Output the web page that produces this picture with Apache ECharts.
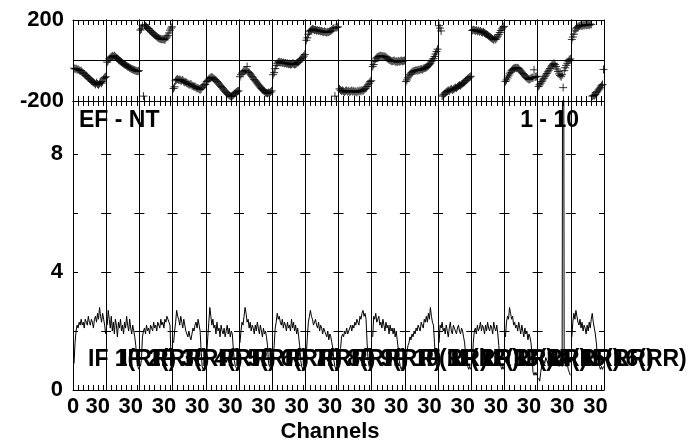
<!DOCTYPE html>
<html><head><meta charset="utf-8">
<script src="https://cdn.jsdelivr.net/npm/echarts@6/dist/echarts.min.js"></script>
<style>html,body{margin:0;padding:0;background:#fff}#c{width:692px;height:443px}</style>
</head><body><div id="c"></div>
<script>
// ---------- data ----------
const ifLabels = ['IF 1(RR)','IF 2(RR)','IF 3(RR)','IF 4(RR)','IF 5(RR)','IF 6(RR)','IF 7(RR)','IF 8(RR)',
                  'IF 9(RR)','IF 10(RR)','IF 11(RR)','IF 12(RR)','IF 13(RR)','IF 14(RR)','IF 15(RR)','IF 16(RR)'];
const baselineLabel = 'EF - NT';
const timeLabel = '1 - 10';
const xAxisTitle = 'Channels';
const phaseTickLabels = [-200, 200];
const ampTickLabels = [0, 4, 8];
const chanTickLabelsFirst = [0, 30];
const chanTickLabelsOther = [30];

// phase (degrees) per channel, 32 channels per IF
const ph1  = [-38,-42,-40,-45,-44,-48,-52,-50,-58,-62,-66,-72,-75,-80,-86,-90,-95,-100,-104,-108,-112,-118,-110,-116,-120,-114,-108,-112,-104,-90,-84,-80];
const ph2  = [-8,0,8,14,18,22,20,24,18,14,10,4,0,-4,-8,-12,-16,-20,-22,-26,-30,-32,-36,-38,-42,-44,-46,-48,-50,-52,-54,-50];
const ph3  = [150,156,172,-176,178,170,166,160,158,150,146,140,136,130,126,122,118,114,110,108,106,104,106,104,102,110,116,124,136,150,160,166];
const ph4  = [-138,-130,-100,-94,-92,-96,-94,-98,-100,-96,-104,-108,-106,-112,-114,-118,-120,-116,-124,-126,-130,-128,-134,-138,-136,-142,-144,-140,-132,-126,-120,-118];
const ph5  = [-104,-98,-92,-88,-84,-82,-86,-90,-94,-98,-104,-110,-116,-122,-128,-134,-140,-146,-152,-158,-164,-168,-172,-176,-178,-174,-170,-164,-160,-156,-152,-150];
const ph6  = [-80,-70,-62,-56,-52,-50,-48,-30,-56,-60,-66,-72,-80,-86,-94,-100,-106,-112,-120,-126,-132,-138,-144,-148,-152,-158,-160,-162,-158,-160,-156,-150];
const ph7  = [-70,-60,-40,-24,-14,-8,-6,-10,-8,-12,-10,-14,-12,-16,-14,-18,-16,-20,-18,-14,-16,-20,-18,-14,-10,-8,-2,4,10,16,22,30];
const ph8  = [100,112,130,142,148,152,156,154,150,152,148,150,146,148,144,146,142,140,144,140,138,142,140,144,146,150,156,160,-176,162,164,166];
const ph9  = [-140,-146,-150,-148,-152,-156,-150,-148,-154,-150,-156,-152,-148,-154,-150,-156,-152,-158,-150,-154,-148,-152,-146,-150,-144,-140,-136,-128,-120,-112,-104,-100];
const ph10 = [-30,-20,-4,8,14,18,20,22,24,20,22,18,20,16,12,8,4,2,-2,-4,-2,0,-6,-4,-8,-2,-6,-4,0,-4,-2,0];
const ph11 = [-104,-96,-86,-76,-68,-62,-58,-54,-52,-50,-48,-50,-46,-48,-44,-42,-46,-40,-38,-36,-34,-30,-26,-20,-14,-6,2,10,20,32,44,56];
const ph12 = [172,160,146,-176,-170,-166,-160,-156,-152,-148,-150,-144,-140,-146,-142,-138,-134,-136,-130,-126,-122,-124,-118,-114,-110,-106,-100,-96,-90,-86,-82,-78];
const ph13 = [148,152,150,146,150,144,148,142,146,140,138,142,136,132,130,126,122,118,114,110,106,102,110,104,112,120,128,138,148,156,164,168];
const ph14 = [-104,-96,-86,-76,-66,-58,-50,-44,-40,-38,-36,-38,-36,-40,-46,-52,-58,-64,-70,-76,-82,-86,-90,-94,-92,-88,-84,-86,-46,-82,-80,-78];
const ph15 = [-128,-120,-112,-104,-96,-88,-80,-72,-64,-56,-48,-40,-32,-24,-18,-14,-20,-30,-42,-54,-66,-74,-80,-70,-134,-50,-36,-24,-14,-4,4,8];
const ph16 = [104,116,130,146,156,162,166,170,172,174,170,176,172,178,174,176,178,174,180,178,-176,-172,-174,-168,-160,-154,-146,-140,-132,-124,-118,-44];

// amplitude per channel, 32 channels per IF
const amp1  = [0.9,1.6,2.0,2.2,2.1,2.3,2.2,2.4,2.2,2.3,2.1,2.4,2.3,2.2,2.5,2.3,2.2,2.4,2.3,2.1,2.4,2.5,2.3,2.6,2.4,2.8,2.5,2.3,2.6,2.4,2.2,1.9];
const amp2  = [2.2,2.7,2.4,2.1,2.5,2.0,2.3,1.9,2.4,2.2,1.8,2.3,2.1,2.4,2.0,2.2,1.9,2.3,2.1,2.5,2.2,2.0,2.4,2.1,1.9,2.2,2.0,1.8,1.5,1.0,0.8,0.7];
const amp3  = [0.8,1.0,1.8,2.0,2.1,1.9,2.2,2.0,2.1,1.9,2.2,2.1,2.0,2.3,2.1,2.2,2.0,2.3,2.2,2.1,2.4,2.2,2.3,2.1,2.4,2.3,2.5,2.4,2.3,2.2,1.1,0.8];
const amp4  = [1.6,2.0,2.3,2.7,2.5,2.4,2.2,2.5,2.3,2.1,2.4,2.2,2.0,1.9,1.8,2.0,1.8,1.7,1.9,2.1,2.0,2.2,2.3,2.1,2.4,2.2,2.0,1.3,0.8,0.7,0.7,0.8];
const amp5  = [1.2,1.8,2.3,2.8,2.5,2.2,2.4,2.1,2.2,1.9,2.3,2.0,2.1,1.8,2.2,2.0,1.9,2.1,1.8,2.0,2.2,1.9,2.1,1.8,2.0,1.9,1.4,1.0,0.8,0.8,0.7,0.8];
const amp6  = [1.6,2.0,2.3,2.2,2.5,2.8,2.6,2.3,2.4,2.1,2.3,2.0,2.2,2.1,1.9,2.2,2.0,2.3,2.1,1.9,2.2,2.0,1.8,2.1,1.9,2.0,1.8,1.5,0.9,0.8,0.8,0.7];
const amp7  = [0.9,1.5,2.1,2.3,2.6,2.4,2.5,2.3,2.2,2.4,2.1,2.3,2.2,2.0,2.3,2.1,2.2,2.0,2.4,2.1,2.3,2.0,2.2,1.9,2.1,1.8,1.5,1.0,0.8,0.7,0.8,0.8];
const amp8  = [1.2,1.8,2.3,2.5,2.7,2.5,2.4,2.2,2.3,2.4,2.2,2.1,2.3,2.0,2.2,2.1,1.9,2.1,2.0,1.9,1.8,2.0,1.7,1.9,1.8,1.6,1.4,1.0,0.8,0.7,0.8,0.7];
const amp9  = [0.9,1.4,1.8,1.9,1.8,2.0,1.9,2.1,1.9,2.0,2.1,2.2,2.0,2.2,2.1,2.3,2.2,2.4,2.3,2.2,2.5,2.4,2.6,2.7,2.5,2.6,2.4,1.6,1.0,0.8,0.8,0.7];
const amp10 = [1.8,2.5,2.4,2.6,2.3,2.4,2.5,2.2,2.3,2.1,2.4,2.2,2.0,2.3,2.1,2.2,1.9,2.2,2.0,2.1,1.9,2.1,1.8,2.0,1.7,1.4,1.0,0.8,0.7,0.8,0.7,0.8];
const amp11 = [0.8,1.3,1.5,1.6,1.8,1.7,1.9,1.8,2.0,1.9,2.1,2.0,2.2,2.1,2.0,2.3,2.2,2.1,2.4,2.3,2.5,2.3,2.6,2.4,2.8,2.5,2.3,2.2,1.6,1.0,0.8,0.7];
const amp12 = [1.6,2.2,2.1,2.3,2.0,2.1,1.9,2.2,2.0,1.8,2.1,2.3,2.0,1.9,2.2,2.1,2.0,1.9,2.1,2.2,2.0,1.9,2.1,2.0,1.8,1.6,1.2,0.9,0.8,0.7,0.8,0.7];
const amp13 = [0.9,1.6,2.0,2.1,1.9,2.2,2.0,2.1,2.3,2.0,2.2,2.1,1.9,2.2,2.0,2.3,2.1,2.0,2.2,2.1,1.9,2.3,2.1,2.0,2.2,1.9,1.5,1.0,0.8,0.7,0.8,0.7];
const amp14 = [1.8,2.3,2.5,2.4,2.8,2.6,2.4,2.5,2.2,2.3,2.1,2.2,2.0,2.3,2.1,1.9,2.2,2.0,1.8,2.1,1.9,2.0,1.7,1.9,1.8,1.6,1.2,0.6,0.5,0.6,0.5,0.6];
const amp15 = [0.4,0.3,0.6,0.8,0.9,1.0,0.9,1.1,1.0,0.9,1.1,1.0,0.8,1.0,1.1,0.9,1.0,1.1,0.9,1.0,0.8,1.0,0.9,0.8,25.0,0.9,1.0,0.8,0.9,0.7,0.6,0.5];
const amp16 = [1.8,2.3,2.6,2.4,2.7,2.5,2.3,2.2,2.4,2.1,2.3,2.0,2.2,2.1,1.9,2.2,2.0,2.3,2.1,2.4,2.6,2.3,2.1,1.9,1.6,1.2,0.9,0.8,0.7,0.8,0.7,0.8];

const phases = [ph1,ph2,ph3,ph4,ph5,ph6,ph7,ph8,ph9,ph10,ph11,ph12,ph13,ph14,ph15,ph16];
const amps = [amp1,amp2,amp3,amp4,amp5,amp6,amp7,amp8,amp9,amp10,amp11,amp12,amp13,amp14,amp15,amp16];

// ---------- layout / style ----------
const FONT = '"Liberation Sans", Arial, Helvetica, sans-serif';
const FS = 22;
const FT = 23;
const L = 73, R = 604, TOP = 20, MID = 101, BOT = 390;
const N = ifLabels.length;
const W = (R - L) / N;
const XMAX = 32.5;
const black = '#000';
const lblStyle = {color: black, fontFamily: FONT, fontWeight: 'bold', fontSize: FS};

const grids = [], xAxes = [], yAxes = [], series = [], graphics = [];

for (let k = 0; k < N; k++) {
  const left = L + k * W;
  const gTop = grids.length;
  grids.push({left: left, top: TOP, width: W, height: MID - TOP, show: false});
  const gBot = grids.length;
  grids.push({left: left, top: MID, width: W, height: BOT - MID, show: false});

  const axLine = {show: true, onZero: false, lineStyle: {color: black, width: 1}};
  const tick = {show: true, inside: true, length: 5, lineStyle: {color: black, width: 1}};

  // top panel x axes
  const xTopB = xAxes.length;
  xAxes.push({type: 'value', gridIndex: gTop, position: 'bottom', min: 0, max: XMAX, interval: 5,
    axisLine: axLine, axisTick: tick, axisLabel: {show: false}, splitLine: {show: false}});
  xAxes.push({type: 'value', gridIndex: gTop, position: 'top', min: 0, max: XMAX, interval: 5,
    axisLine: axLine, axisTick: tick, axisLabel: {show: false}, splitLine: {show: false}});
  // bottom panel x axes
  const labs = k === 0 ? chanTickLabelsFirst : chanTickLabelsOther;
  const xBotB = xAxes.length;
  xAxes.push({type: 'value', gridIndex: gBot, position: 'bottom', min: 0, max: XMAX, interval: 5,
    axisLine: axLine, axisTick: tick, splitLine: {show: false},
    axisLabel: Object.assign({show: true, margin: 6,
      formatter: v => labs.indexOf(v) < 0 ? '' : (v === 0 ? '{z|0}' : '{s|' + v + '}'),
      rich: {z: Object.assign({}, lblStyle), s: Object.assign({padding: [0, 12, 0, 0]}, lblStyle)}}, lblStyle)});
  xAxes.push({type: 'value', gridIndex: gBot, position: 'top', min: 0, max: XMAX, interval: 5,
    axisLine: axLine, axisTick: tick, axisLabel: {show: false}, splitLine: {show: false}});

  // top panel y axes
  const yTopL = yAxes.length;
  yAxes.push({type: 'value', gridIndex: gTop, position: 'left', min: -200, max: 200, interval: 200,
    axisLine: axLine, axisTick: {show: false},
    splitLine: {show: true, lineStyle: {color: black, width: 1}},
    axisLabel: Object.assign({show: k === 0, margin: 9,
      formatter: v => phaseTickLabels.indexOf(v) < 0 ? '' : String(v)}, lblStyle)});
  yAxes.push({type: 'value', gridIndex: gTop, position: 'right', min: -200, max: 200, interval: 200,
    axisLine: axLine, axisTick: {show: false}, splitLine: {show: false}, axisLabel: {show: false}});
  // bottom panel y axes
  const yBotL = yAxes.length;
  yAxes.push({type: 'value', gridIndex: gBot, position: 'left', min: 0, max: 9.8, interval: 2,
    axisLine: axLine, axisTick: tick, splitLine: {show: false},
    axisLabel: Object.assign({show: k === 0, margin: 10,
      formatter: v => ampTickLabels.indexOf(v) < 0 ? '' : String(v)}, lblStyle)});
  yAxes.push({type: 'value', gridIndex: gBot, position: 'right', min: 0, max: 9.8, interval: 2,
    axisLine: axLine, axisTick: tick, splitLine: {show: false}, axisLabel: {show: false}});

  series.push({type: 'scatter', xAxisIndex: xTopB, yAxisIndex: yTopL,
    symbol: 'path://M0,5L10,5M5,0L5,10', symbolSize: 8, silent: true,
    itemStyle: {color: 'rgba(0,0,0,0)', borderColor: black, borderWidth: 1},
    data: phases[k].map((v, i) => [i + 1, v])});
  series.push({type: 'line', xAxisIndex: xBotB, yAxisIndex: yBotL, showSymbol: false, silent: true,
    clip: true, lineStyle: {color: black, width: 1},
    data: amps[k].map((v, i) => [i + 1, v])});

  graphics.push({type: 'text', x: 88 + k * W, y: 360, z: 10,
    style: {text: ifLabels[k], fill: black, font: 'bold ' + FT + 'px ' + FONT, align: 'left', verticalAlign: 'middle'}});
}

graphics.push({type: 'text', x: 79, y: 121, z: 10,
  style: {text: baselineLabel, fill: black, font: 'bold ' + FT + 'px ' + FONT, align: 'left', verticalAlign: 'middle'}});
graphics.push({type: 'text', x: 579, y: 121, z: 10,
  style: {text: timeLabel, fill: black, font: 'bold ' + FT + 'px ' + FONT, align: 'right', verticalAlign: 'middle'}});
graphics.push({type: 'text', x: 330, y: 432, z: 10,
  style: {text: xAxisTitle, fill: black, font: 'bold ' + FS + 'px ' + FONT, align: 'center', verticalAlign: 'middle'}});

const chart = echarts.init(document.getElementById('c'), null, {renderer: 'canvas'});
chart.setOption({
  animation: false,
  backgroundColor: '#fff',
  grid: grids,
  xAxis: xAxes,
  yAxis: yAxes,
  series: series,
  graphic: graphics
});
</script>
</body></html>
